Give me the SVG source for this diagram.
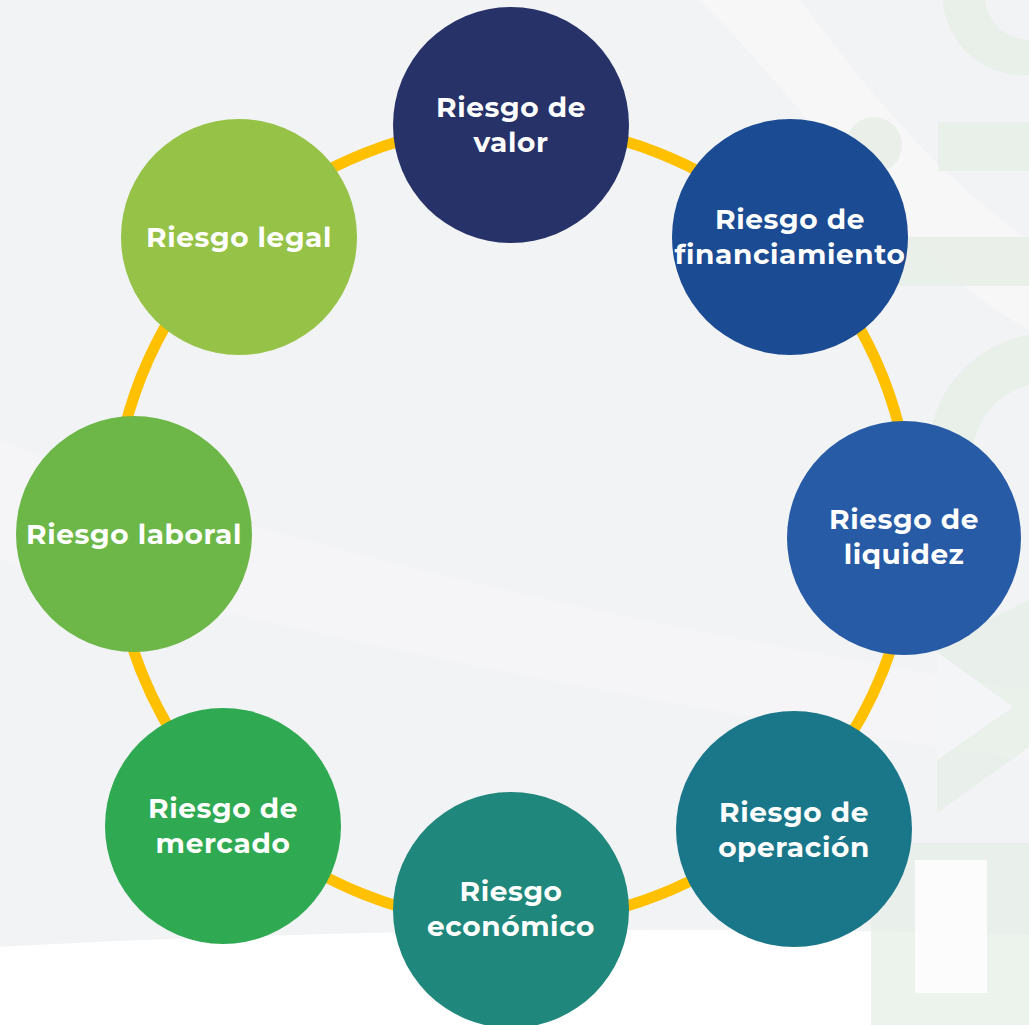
<svg xmlns="http://www.w3.org/2000/svg" width="1029" height="1025" viewBox="0 0 1029 1025">
<defs>
<style>
.bg{fill:#f2f3f5}
.deco{fill:#e6eee5}
.node text{font-family:"Montserrat","Open Sans","Liberation Sans",sans-serif;font-weight:700;font-size:28px;letter-spacing:0.6px;fill:#ffffff;text-anchor:middle}
.ring{fill:none;stroke:#ffc000;stroke-width:11}
</style>
</defs>
<g id="background">
<rect class="bg" x="0" y="0" width="1029" height="1025"/>
<path d="M700,0 C820,120 900,260 1029,330 L1029,240 C930,170 860,80 800,0 Z" fill="#f7f8f9" opacity="0.8"/>
<path d="M0,440 C250,540 600,620 1029,690 L1029,760 C600,700 250,620 0,560 Z" fill="#f6f7f9" opacity="0.6"/>
<g opacity="0.75">
<path d="M1029,0 L1029,75 A80,80 0 0 1 943,0 Z" class="deco"/>
<circle class="deco" cx="874" cy="145" r="28"/>
<rect class="deco" x="938" y="122" width="91" height="49"/>
<rect class="deco" x="895" y="237" width="134" height="49"/>
<path class="deco" d="M1029,335 A120,120 0 0 0 938,500 L985,500 A75,75 0 0 1 1029,385 Z"/>
<polygon class="deco" points="937,645 1029,600 1029,747 937,813"/>
</g>
<path d="M1029,0 L1029,40 A45,45 0 0 1 985,0 Z" class="bg"/>
<polygon points="937,652 1013,707 937,760" fill="#f4f5f7"/>
<path d="M0,947 C300,930 700,925 1029,935 L1029,1025 L0,1025 Z" fill="#ffffff"/>
<g opacity="0.75">
<rect class="deco" x="871" y="843" width="158" height="182"/>
</g>
<rect x="915" y="860" width="72" height="133" fill="#fbfcfb"/>
</g>
<g id="connectors">
<circle class="ring" cx="512" cy="524" r="399"/>
</g>
<g id="node-valor" class="node">
<circle cx="511" cy="125" r="118" fill="#263268"/>
<text x="511" y="117">Riesgo de</text>
<text x="511" y="152">valor</text>
</g>
<g id="node-financiamiento" class="node">
<circle cx="790" cy="237" r="118" fill="#1b4b92"/>
<text x="790" y="229">Riesgo de</text>
<text x="790" y="264">financiamiento</text>
</g>
<g id="node-liquidez" class="node">
<circle cx="904" cy="538" r="117" fill="#275ba6"/>
<text x="904" y="529">Riesgo de</text>
<text x="904" y="564">liquidez</text>
</g>
<g id="node-operacion" class="node">
<circle cx="794" cy="829" r="118" fill="#1a778a"/>
<text x="794" y="822">Riesgo de</text>
<text x="794" y="857">operación</text>
</g>
<g id="node-economico" class="node">
<circle cx="511" cy="910" r="118" fill="#1f877b"/>
<text x="511" y="901">Riesgo</text>
<text x="511" y="936">económico</text>
</g>
<g id="node-mercado" class="node">
<circle cx="223" cy="826" r="118" fill="#2fa952"/>
<text x="223" y="818">Riesgo de</text>
<text x="223" y="853">mercado</text>
</g>
<g id="node-laboral" class="node">
<circle cx="134" cy="534" r="118" fill="#6db749"/>
<text x="134" y="544">Riesgo laboral</text>
</g>
<g id="node-legal" class="node">
<circle cx="239" cy="237" r="118" fill="#95c247"/>
<text x="239" y="247">Riesgo legal</text>
</g>
</svg>
